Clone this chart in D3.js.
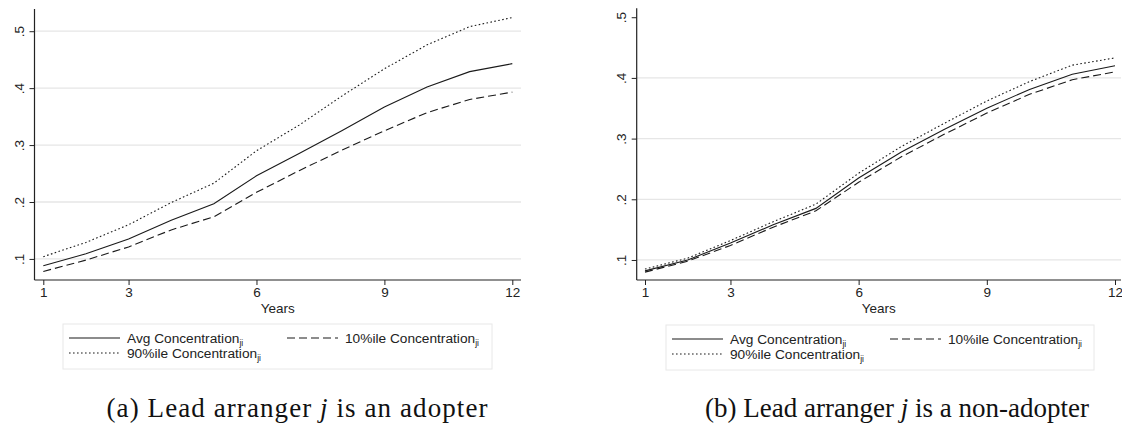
<!DOCTYPE html>
<html>
<head>
<meta charset="utf-8">
<script src="https://cdn.jsdelivr.net/npm/d3@7"></script>
<style>
  html, body { margin: 0; padding: 0; background: #fff; }
  svg { display: block; }
  .tick-label { font-family: "Liberation Sans", Arial, sans-serif; font-size: 13.5px; fill: #222; }
  .legend-text { font-family: "Liberation Sans", Arial, sans-serif; font-size: 13.7px; fill: #222; }
  .caption { font-family: "Liberation Serif", "Times New Roman", serif; font-size: 27px; fill: #111; }
</style>
</head>
<body>
<svg id="chart" width="1122" height="434"></svg>
<script>
// Years since adoption
const years = [1, 2, 3, 4, 5, 6, 7, 8, 9, 10, 11, 12];
const xTicks = [1, 3, 6, 9, 12];
const yTicks = [0.1, 0.2, 0.3, 0.4, 0.5];
const yTickLabels = [".1", ".2", ".3", ".4", ".5"];

// Panel (a): lead arranger is an adopter
const adopterAvg = [0.088, 0.109, 0.135, 0.168, 0.197, 0.246, 0.285, 0.325, 0.367, 0.402, 0.429, 0.443];
const adopterP10 = [0.078, 0.098, 0.121, 0.151, 0.174, 0.217, 0.255, 0.291, 0.325, 0.357, 0.380, 0.393];
const adopterP90 = [0.104, 0.129, 0.160, 0.199, 0.233, 0.290, 0.335, 0.386, 0.434, 0.476, 0.508, 0.524];

// Panel (b): lead arranger is a non-adopter
const nonAdopterAvg = [0.082, 0.100, 0.128, 0.158, 0.185, 0.235, 0.278, 0.315, 0.350, 0.381, 0.406, 0.420];
const nonAdopterP10 = [0.080, 0.098, 0.124, 0.154, 0.181, 0.228, 0.270, 0.307, 0.342, 0.373, 0.397, 0.410];
const nonAdopterP90 = [0.085, 0.103, 0.132, 0.163, 0.192, 0.243, 0.287, 0.325, 0.362, 0.394, 0.421, 0.433];

const seriesNames = ["Avg Concentration", "10%ile Concentration", "90%ile Concentration"];
const seriesDash = [null, "8,4", "1.6,2.4"];

const captions = ["(a) Lead arranger ", "(b) Lead arranger "];
const captionTails = [" is an adopter", " is a non-adopter"];

const svg = d3.select("#chart");

const panels = [
  { left: 34.5, right: 521, top: 9, bottom: 280, x0: 43.3, x1: 512.3,
    yDomain: [0.063, 0.539], grid: [0.1, 0.2, 0.3, 0.4, 0.5],
    series: [adopterAvg, adopterP10, adopterP90],
    legend: { x: 63, y: 324, w: 429, h: 45 }, caption: 0, capX: 297, capW: 381 },
  { left: 636.7, right: 1121, top: 8.3, bottom: 280, x0: 645, x1: 1115,
    yDomain: [0.067, 0.5147], grid: [0.1, 0.2, 0.3, 0.4],
    series: [nonAdopterAvg, nonAdopterP10, nonAdopterP90],
    legend: { x: 666, y: 325, w: 428, h: 45 }, caption: 1, capX: 897, capW: 380 }
];

panels.forEach(p => {
  const g = svg.append("g");
  const x = d3.scaleLinear().domain([1, 12]).range([p.x0, p.x1]);
  const y = d3.scaleLinear().domain(p.yDomain).range([p.bottom, p.top]);

  // horizontal grid
  g.selectAll(".grid").data(p.grid).join("line")
    .attr("x1", p.left).attr("x2", p.right)
    .attr("y1", d => y(d)).attr("y2", d => y(d))
    .attr("stroke", "#e6e6e6").attr("stroke-width", 1.3);

  // y axis
  const yAxis = d3.axisLeft(y).tickValues(yTicks)
    .tickFormat((d, i) => yTickLabels[i]).tickSize(5).tickPadding(4);
  const ya = g.append("g").attr("transform", `translate(${p.left},0)`).call(yAxis);
  ya.select(".domain").attr("d", `M0,${p.top}V${p.bottom}`).attr("stroke", "#222").attr("stroke-width", 1.2);
  ya.selectAll(".tick line").attr("stroke", "#222");
  ya.selectAll(".tick text")
    .attr("class", "tick-label")
    .attr("x", 0).attr("y", 0).attr("dy", null)
    .attr("text-anchor", "middle")
    .attr("transform", "translate(-11,0) rotate(-90)");

  // x axis
  const xAxis = d3.axisBottom(x).tickValues(xTicks).tickFormat(d3.format("d")).tickSize(5).tickPadding(2);
  const xa = g.append("g").attr("transform", `translate(0,${p.bottom})`).call(xAxis);
  xa.select(".domain").attr("d", `M${p.left},0H${p.right}`).attr("stroke", "#222").attr("stroke-width", 1.2);
  xa.selectAll(".tick line").attr("stroke", "#222");
  xa.selectAll(".tick text").attr("class", "tick-label");

  g.append("text").attr("class", "tick-label")
    .attr("x", (p.left + p.right) / 2).attr("y", 313)
    .attr("text-anchor", "middle").text("Years");

  // series lines
  const line = d3.line().x((d, i) => x(years[i])).y(d => y(d));
  p.series.forEach((s, k) => {
    g.append("path").datum(s)
      .attr("d", line)
      .attr("fill", "none")
      .attr("stroke", "#1a1a1a")
      .attr("stroke-width", 1.1)
      .attr("stroke-dasharray", seriesDash[k]);
  });

  // legend
  const L = p.legend;
  g.append("rect").attr("x", L.x).attr("y", L.y).attr("width", L.w).attr("height", L.h)
    .attr("fill", "#fff").attr("stroke", "#e8e8e8").attr("stroke-width", 1);
  const legendPos = [
    { sx: L.x + 6, ty: L.y + 14 },
    { sx: L.x + 224, ty: L.y + 14 },
    { sx: L.x + 6, ty: L.y + 29 }
  ];
  legendPos.forEach((lp, k) => {
    g.append("line")
      .attr("x1", lp.sx).attr("x2", lp.sx + 51)
      .attr("y1", lp.ty).attr("y2", lp.ty)
      .attr("stroke", "#1a1a1a").attr("stroke-width", 1.1)
      .attr("stroke-dasharray", seriesDash[k]);
    const t = g.append("text").attr("class", "legend-text")
      .attr("x", lp.sx + 58).attr("y", lp.ty + 4.5);
    t.append("tspan").text(seriesNames[k]);
    t.append("tspan").attr("font-size", "8.5px").attr("dy", 3).text("ji");
  });

  // caption, spaced out to the panel's caption width
  const c = g.append("text").attr("class", "caption")
    .attr("x", p.capX).attr("y", 417).attr("text-anchor", "middle");
  c.append("tspan").text(captions[p.caption]);
  c.append("tspan").attr("font-style", "italic").text("j");
  c.append("tspan").text(captionTails[p.caption]);
  const full = captions[p.caption] + "j" + captionTails[p.caption];
  const w = c.node().getComputedTextLength();
  const ls = Math.max(0, (p.capW - w) / (full.length - 1));
  c.style("letter-spacing", ls + "px").attr("x", p.capX + ls / 2);
});
</script>
</body>
</html>
